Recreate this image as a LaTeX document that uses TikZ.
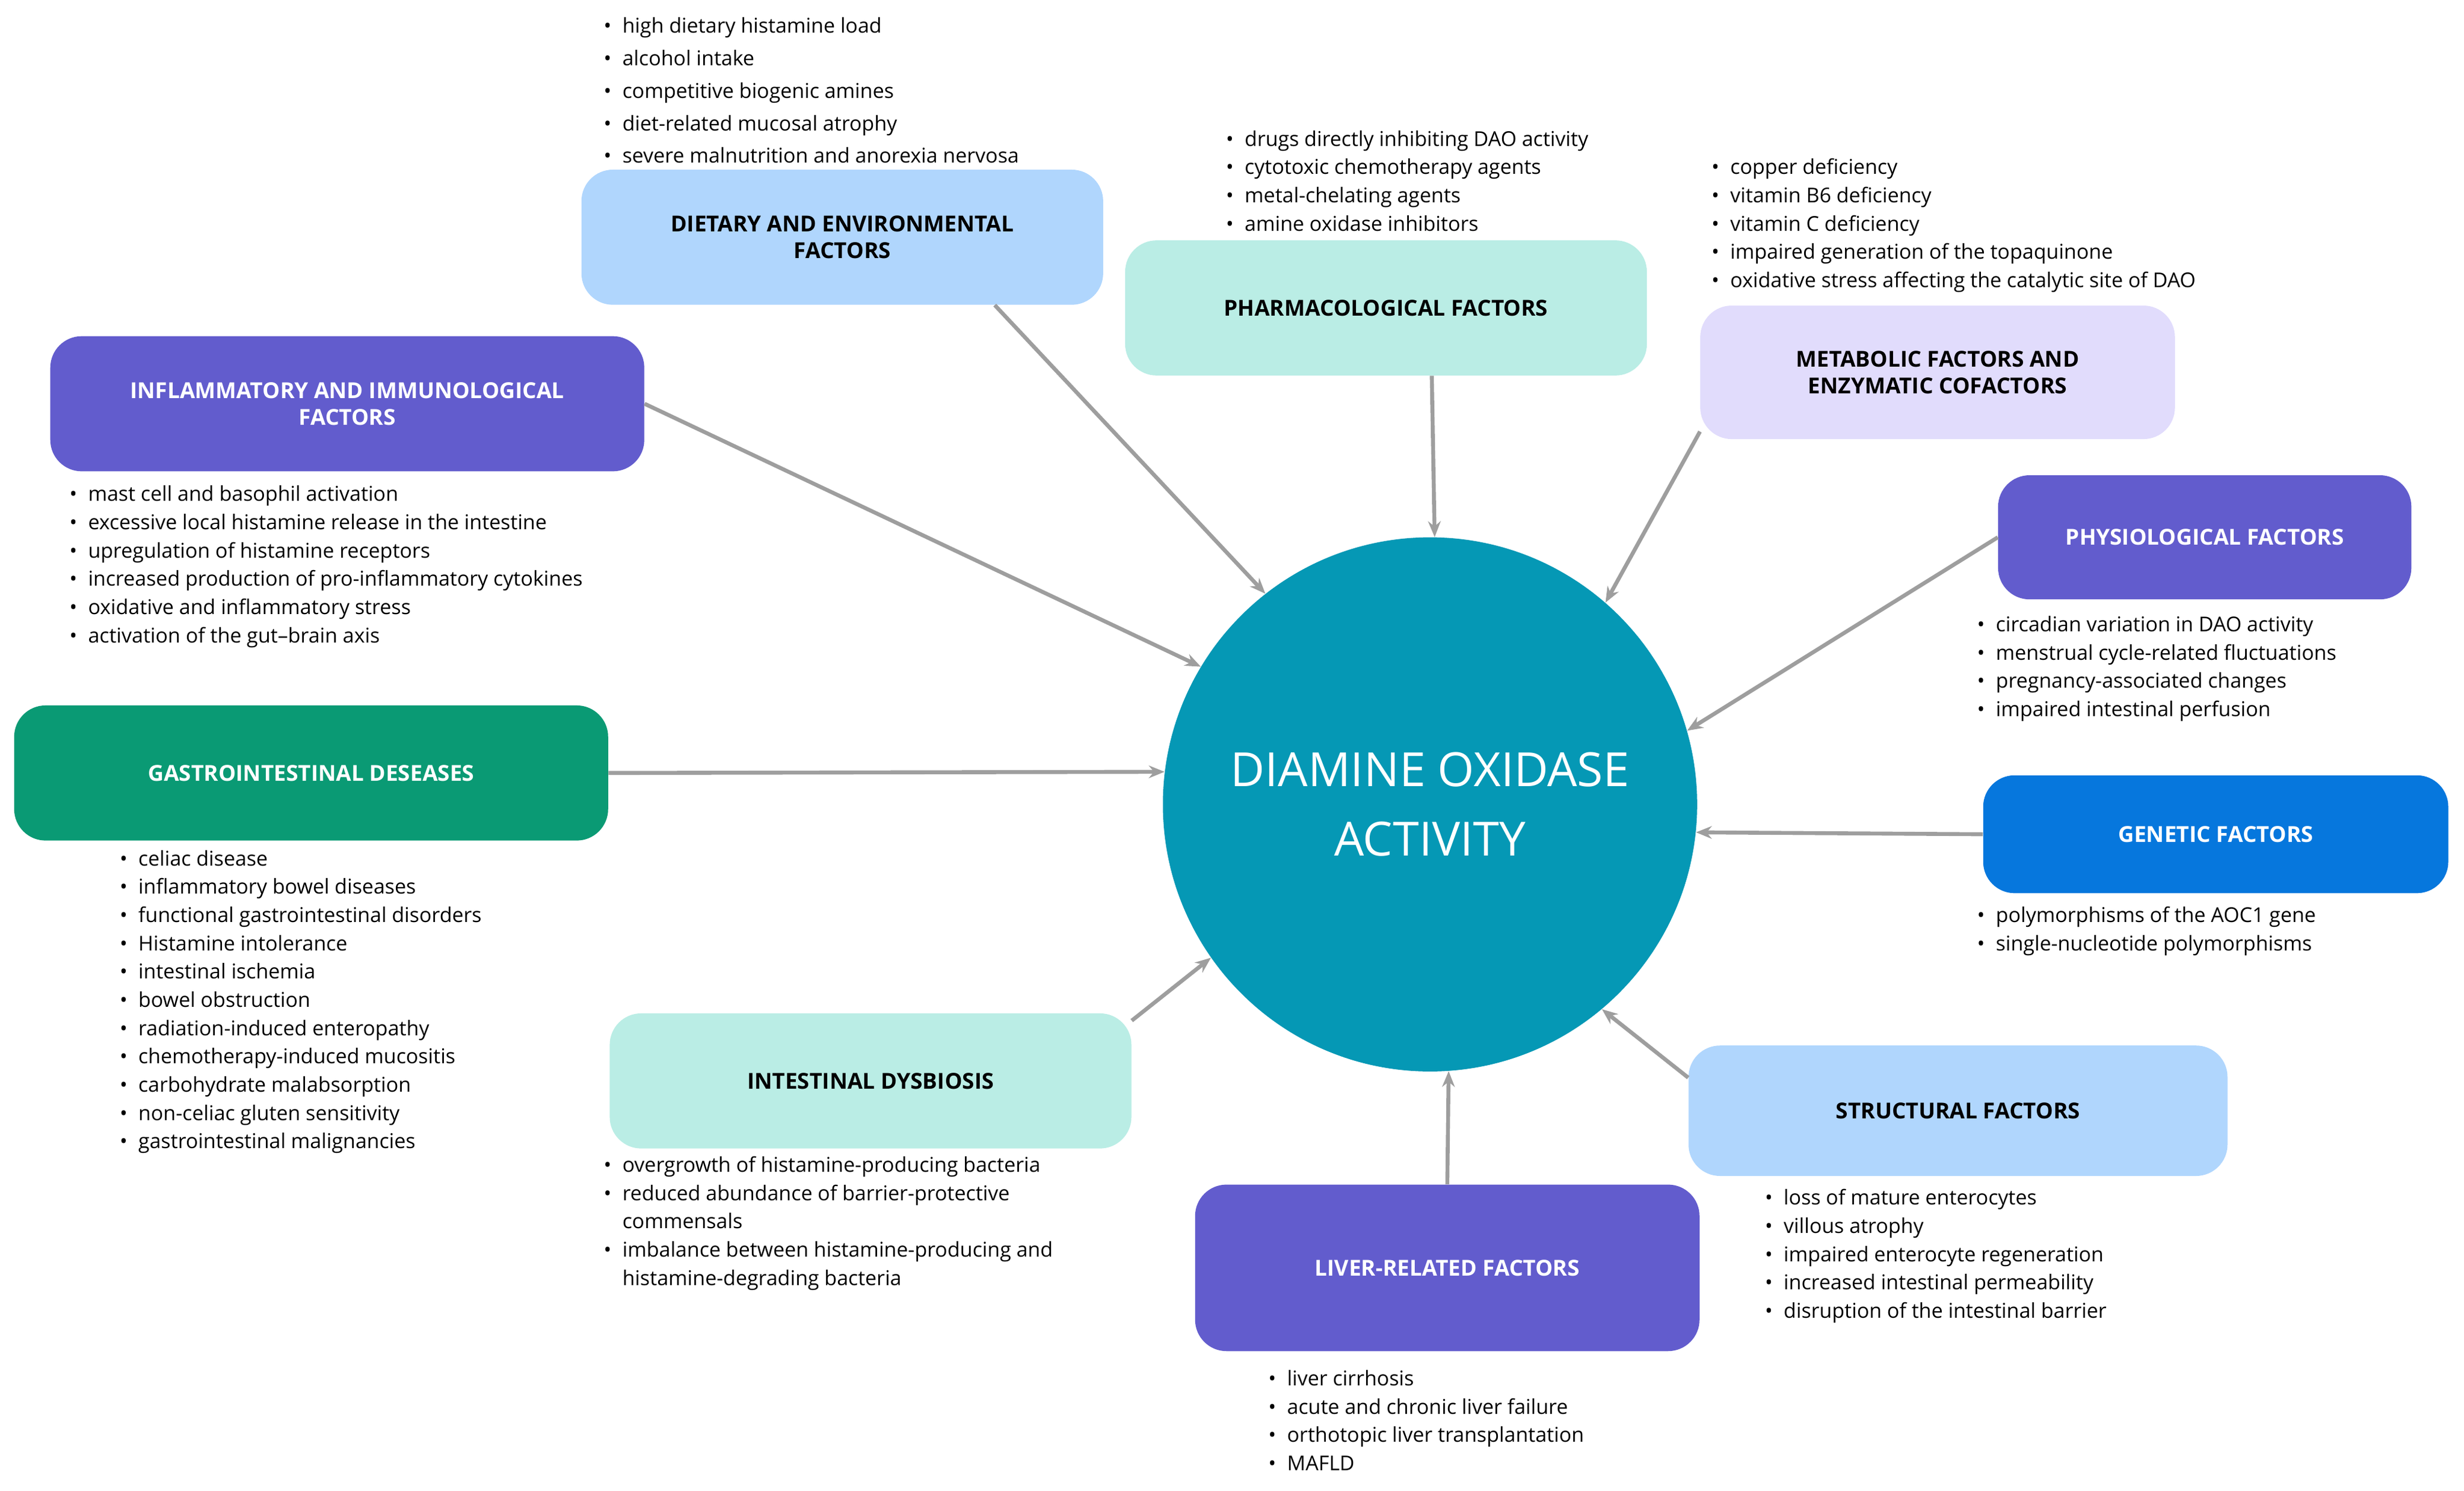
\documentclass[tikz,border=0pt]{standalone}
\usepackage{fontspec}
\setmainfont{Open Sans}
\newfontfamily\lightfont{Open Sans Light}
\usetikzlibrary{arrows.meta, calc}
\definecolor{daoteal}{HTML}{0598B5}
\definecolor{lblue}{HTML}{B0D6FD}
\definecolor{mint}{HTML}{BAEDE5}
\definecolor{lav}{HTML}{E1DCFC}
\definecolor{purp}{HTML}{625CCD}
\definecolor{dgreen}{HTML}{0A9A74}
\definecolor{gblue}{HTML}{0677DD}
\definecolor{arrgray}{HTML}{9E9E9E}
\newcommand{\bitem}[1]{\textbullet & #1\\}
\newcommand{\bcont}[1]{ & #1\\}
\tikzset{
  box/.style={rounded corners=20pt, inner sep=0pt, align=center,
    font=\fontsize{14}{17}\selectfont\bfseries},
  dark/.style={box, text=white},
  light/.style={box, text=black},
  blist/.style={anchor=base west, inner sep=0pt, align=left,
    font=\fontsize{13}{18}\selectfont},
  feed/.style={-{Stealth[length=10pt,width=8pt]}, arrgray, line width=2.5pt},
}
\newcommand{\mklist}[1]{\renewcommand{\arraystretch}{1}\begin{tabular}[t]{@{}l@{\hspace{7pt}}l@{}}#1\end{tabular}}
\begin{document}
\begin{tikzpicture}[x=1pt, y=-1pt]
  \useasboundingbox (0,0) rectangle (1568,949);

  % central circle
  \node[circle, fill=daoteal, minimum size=340pt, inner sep=0pt, text=white,
    align=center, font=\fontsize{30}{44}\selectfont] (dao) at (910,512)
    {DIAMINE OXIDASE\\ACTIVITY};

  % factor boxes
  \node[light, fill=lblue, minimum width=332pt, minimum height=86pt] (diet) at (536,151)
    {DIETARY AND ENVIRONMENTAL\\FACTORS};
  \node[light, fill=mint, minimum width=332pt, minimum height=86pt] (pharm) at (882,196)
    {PHARMACOLOGICAL FACTORS};
  \node[light, fill=lav, minimum width=302pt, minimum height=85pt] (meta) at (1233,237)
    {METABOLIC FACTORS AND\\ENZYMATIC COFACTORS};
  \node[dark, fill=purp, minimum width=378pt, minimum height=86pt] (inflam) at (221,257)
    {INFLAMMATORY AND IMMUNOLOGICAL\\FACTORS};
  \node[dark, fill=purp, minimum width=263pt, minimum height=79pt] (phys) at (1403,342)
    {PHYSIOLOGICAL FACTORS};
  \node[dark, fill=dgreen, minimum width=378pt, minimum height=86pt] (gi) at (198,492)
    {GASTROINTESTINAL DESEASES};
  \node[dark, fill=gblue, minimum width=296pt, minimum height=75pt] (gen) at (1410,531)
    {GENETIC FACTORS};
  \node[light, fill=mint, minimum width=332pt, minimum height=86pt] (dys) at (554,688)
    {INTESTINAL DYSBIOSIS};
  \node[light, fill=lblue, minimum width=343pt, minimum height=83pt] (struct) at (1246,707)
    {STRUCTURAL FACTORS};
  \node[dark, fill=purp, minimum width=321pt, minimum height=106pt] (liver) at (921,807)
    {LIVER-RELATED FACTORS};

  % arrows
  \draw[feed] (diet.-24) -- (dao.128);
  \draw[feed] (pharm.-56) -- (dao.89);
  \draw[feed] (meta.-166) -- (dao.49);
  \draw[feed] (inflam.east) -- (dao.149);
  \draw[feed] (phys.west) -- (dao.16);
  \draw[feed] (gi.east) -- (dao.173);
  \draw[feed] (gen.west) -- (dao.-6);
  \draw[feed] (dys.13) -- (dao.-145);
  \draw[feed] (struct.173) -- (dao.-50);
  \draw[feed] (liver.north) -- (dao.-86);

  % lists
  \node[blist, font=\fontsize{13}{20.7}\selectfont] (dietlist) at (384,21) {\mklist{
    \bitem{high dietary histamine load}
    \bitem{alcohol intake}
    \bitem{competitive biogenic amines}
    \bitem{diet-related mucosal atrophy}
    \bitem{severe malnutrition and anorexia nervosa}}};
  \node[blist] (pharmlist) at (780,93) {\mklist{
    \bitem{drugs directly inhibiting DAO activity}
    \bitem{cytotoxic chemotherapy agents}
    \bitem{metal-chelating agents}
    \bitem{amine oxidase inhibitors}}};
  \node[blist] (metalist) at (1089,111) {\mklist{
    \bitem{copper deficiency}
    \bitem{vitamin B6 deficiency}
    \bitem{vitamin C deficiency}
    \bitem{impaired generation of the topaquinone}
    \bitem{oxidative stress affecting the catalytic site of DAO}}};
  \node[blist] (inflamlist) at (44,319) {\mklist{
    \bitem{mast cell and basophil activation}
    \bitem{excessive local histamine release in the intestine}
    \bitem{upregulation of histamine receptors}
    \bitem{increased production of pro-inflammatory cytokines}
    \bitem{oxidative and inflammatory stress}
    \bitem{activation of the gut--brain axis}}};
  \node[blist] (physlist) at (1258,402) {\mklist{
    \bitem{circadian variation in DAO activity}
    \bitem{menstrual cycle-related fluctuations}
    \bitem{pregnancy-associated changes}
    \bitem{impaired intestinal perfusion}}};
  \node[blist] (gilist) at (76,551) {\mklist{
    \bitem{celiac disease}
    \bitem{inflammatory bowel diseases}
    \bitem{functional gastrointestinal disorders}
    \bitem{Histamine intolerance}
    \bitem{intestinal ischemia}
    \bitem{bowel obstruction}
    \bitem{radiation-induced enteropathy}
    \bitem{chemotherapy-induced mucositis}
    \bitem{carbohydrate malabsorption}
    \bitem{non-celiac gluten sensitivity}
    \bitem{gastrointestinal malignancies}}};
  \node[blist] (genlist) at (1258,587) {\mklist{
    \bitem{polymorphisms of the AOC1 gene}
    \bitem{single-nucleotide polymorphisms}}};
  \node[blist] (dyslist) at (384,746) {\mklist{
    \bitem{overgrowth of histamine-producing bacteria}
    \bitem{reduced abundance of barrier-protective}
    \bcont{commensals}
    \bitem{imbalance between histamine-producing and}
    \bcont{histamine-degrading bacteria}}};
  \node[blist] (structlist) at (1123,767) {\mklist{
    \bitem{loss of mature enterocytes}
    \bitem{villous atrophy}
    \bitem{impaired enterocyte regeneration}
    \bitem{increased intestinal permeability}
    \bitem{disruption of the intestinal barrier}}};
  \node[blist] (liverlist) at (807,882) {\mklist{
    \bitem{liver cirrhosis}
    \bitem{acute and chronic liver failure}
    \bitem{orthotopic liver transplantation}
    \bitem{MAFLD}}};
\end{tikzpicture}
\end{document}
